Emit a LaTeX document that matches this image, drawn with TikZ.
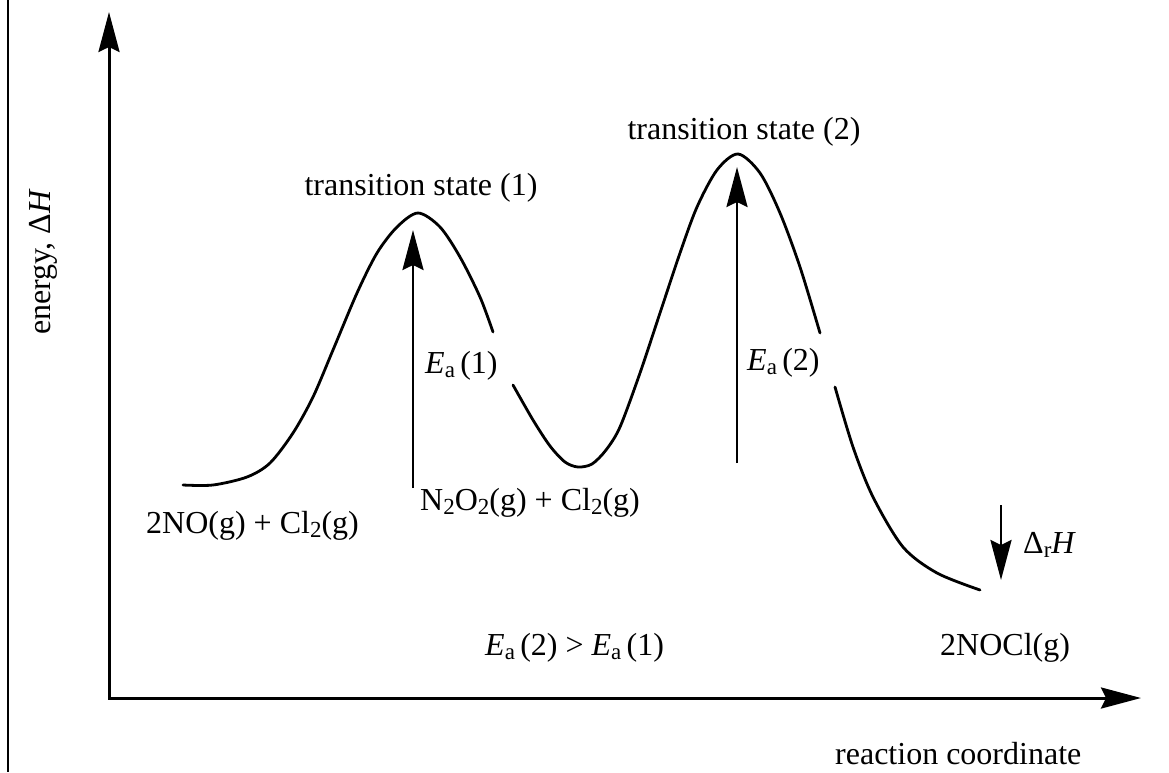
\documentclass[tikz,border=0pt]{standalone}
\usepackage{fontspec}
\setmainfont{Liberation Serif}
\usetikzlibrary{arrows.meta, positioning}
\newcommand{\lowidx}[1]{\raisebox{-0.28ex}{\fontsize{23}{23}\selectfont #1}}
\tikzset{
  axisline/.style = {
    {Stealth[length=40pt, width=21pt, inset=5pt]}-{Stealth[length=40pt, width=21pt, inset=5pt]},
    line width=3pt
  },
  energyarrow/.style = {
    -{Stealth[length=40pt, width=21pt, inset=5pt]},
    line width=2.8pt
  },
  profile/.style = {
    smooth,
    line width=2.8pt,
    line cap=round
  },
  chemlabel/.style = {
    font=\fontsize{32}{38}\selectfont,
    inner sep=0pt
  }
}

\begin{document}
\begin{tikzpicture}[x=1pt, y=-1pt]
  \useasboundingbox (0,0) rectangle (1169,772);

  % Frame edge
  \draw[line width=2pt] (8,0) -- (8,772);

  % Axes
  \coordinate (origin) at (109,698);
  \coordinate (ytip) at (109,12);
  \coordinate (xtip) at (1141,698);
  \draw[axisline] (ytip) -- (origin) -- (xtip);
  \node[chemlabel, rotate=90, anchor=base west] (ylbl) at (50,335) {energy, Δ\textit{H}};
  \node[chemlabel, anchor=base west] (xlbl) at (835,764) {reaction coordinate};

  % Energy profile
  \draw[profile] plot coordinates {(183,485) (213,485) (247,477) (270,463) (293,433)
    (313,397) (333,350) (357,293) (377,253) (397,227) (418,213) (440,227)
    (460,257) (480,297) (493,332)};
  \draw[profile] plot coordinates {(513,385) (533,420) (550,446) (565,462) (578,467)
    (592,464) (606,450) (620,427) (640,373) (660,313) (680,253) (697,207)
    (717,170) (738,154) (760,173) (780,213) (800,267) (820,333)};
  \draw[profile] plot coordinates {(835,387) (853,447) (873,497) (903,547)
    (937,573) (980,590)};

  % Transition states
  \node[chemlabel, anchor=base] (ts1) at (421,195) {transition state (1)};
  \node[chemlabel, anchor=base] (ts2) at (744,139) {transition state (2)};

  % Activation energies
  \coordinate (ea1low) at (413,488);
  \coordinate (ea1top) at (413,230);
  \draw[energyarrow] (ea1low) -- (ea1top);
  \node[chemlabel, anchor=base west] (ea1) at (425,373) {\textit{E}\lowidx{a}\,(1)};

  \coordinate (ea2low) at (737,463);
  \coordinate (ea2top) at (737,167);
  \draw[energyarrow] (ea2low) -- (ea2top);
  \node[chemlabel, anchor=base west] (ea2) at (747,370) {\textit{E}\lowidx{a}\,(2)};

  % Enthalpy change
  \coordinate (dhtop) at (1001,505);
  \coordinate (dhlow) at (1001,580);
  \draw[energyarrow] (dhtop) -- (dhlow);
  \node[chemlabel, anchor=base west] (dh) at (1023,553) {Δ\lowidx{r}\textit{H}};

  % Species
  \node[chemlabel, anchor=base west] (reac) at (146,533) {2NO(g) + Cl\lowidx{2}(g)};
  \node[chemlabel, anchor=base west] (inter) at (420,510) {N\lowidx{2}O\lowidx{2}(g) + Cl\lowidx{2}(g)};
  \node[chemlabel, anchor=base west] (prod) at (940,655) {2NOCl(g)};
  \node[chemlabel, anchor=base west] (cmp) at (485,655) {\textit{E}\lowidx{a}\,(2) > \textit{E}\lowidx{a}\,(1)};
\end{tikzpicture}
\end{document}
